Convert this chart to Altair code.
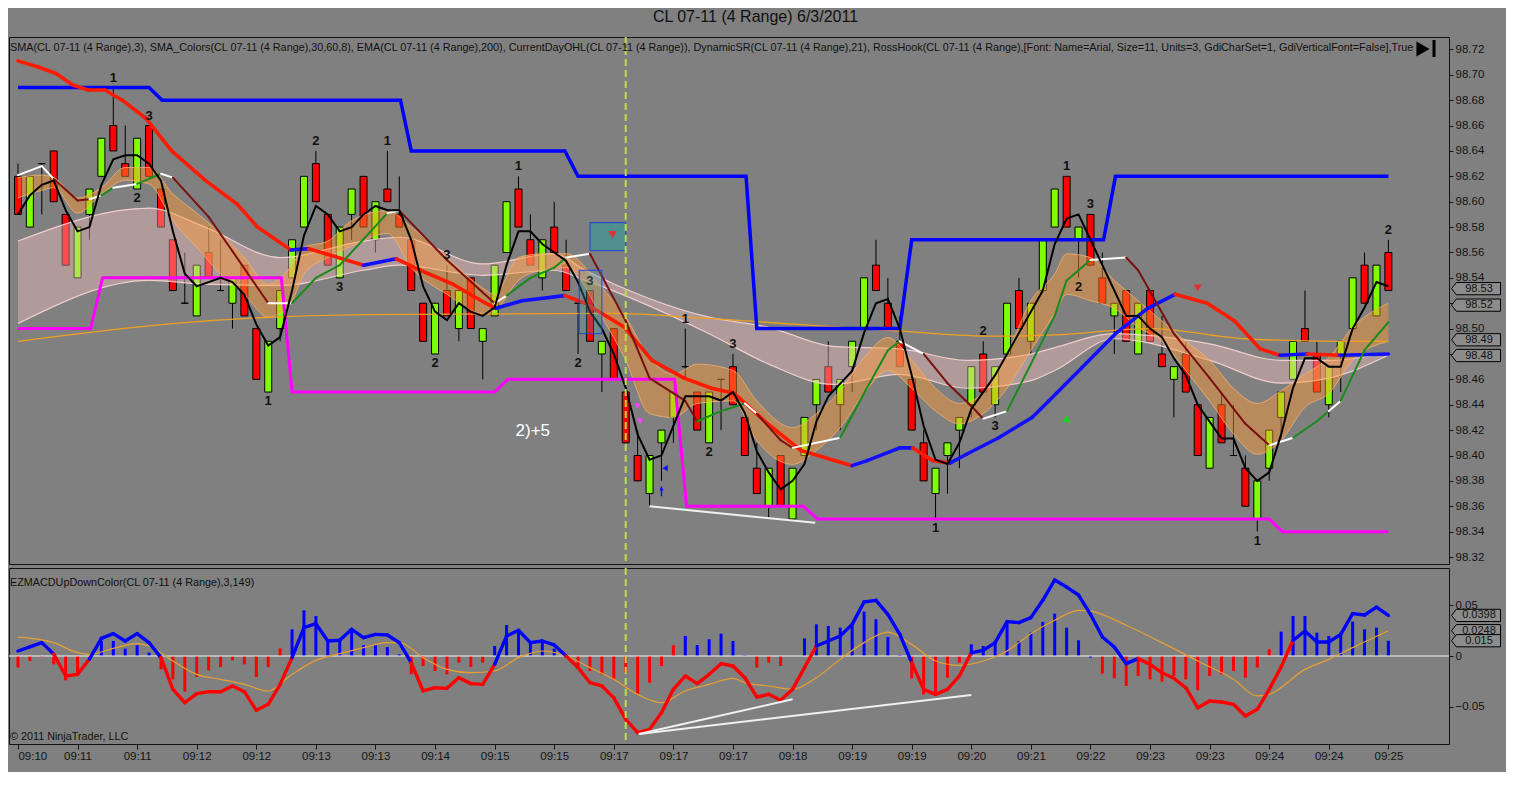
import altair as alt
import pandas as pd

FONT = "Liberation Sans Narrow, Liberation Sans, Arial, sans-serif"
TITLE = "CL 07-11 (4 Range)  6/3/2011"
IND_TEXT = ("SMA(CL 07-11 (4 Range),3), SMA_Colors(CL 07-11 (4 Range),30,60,8), EMA(CL 07-11 (4 Range),200), "
            "CurrentDayOHL(CL 07-11 (4 Range)), DynamicSR(CL 07-11 (4 Range),21), RossHook(CL 07-11 (4 Range),"
            "[Font: Name=Arial, Size=11, Units=3, GdiCharSet=1, GdiVerticalFont=False],True")
MACD_TEXT = "EZMACDUpDownColor(CL 07-11 (4 Range),3,149)"
COPY_TEXT = "\u00a9 2011 NinjaTrader, LLC"

TIMES = ["09:10", "09:11", "09:11", "09:12", "09:12", "09:13", "09:13", "09:14", "09:15", "09:15",
         "09:17", "09:17", "09:17", "09:18", "09:19", "09:19", "09:20", "09:21", "09:22", "09:23",
         "09:23", "09:24", "09:24", "09:25"]
PRICE_TICKS = [98.32, 98.34, 98.36, 98.38, 98.40, 98.42, 98.44, 98.46, 98.48, 98.50, 98.52,
               98.54, 98.56, 98.58, 98.60, 98.62, 98.64, 98.66, 98.68, 98.70, 98.72]
MACD_TICKS = [-0.05, 0, 0.05]

# ---- range bars (4 tick) ----
OPEN = [98.62, 98.58, 98.63, 98.64, 98.59, 98.54, 98.59, 98.62, 98.66, 98.63,
        98.61, 98.66, 98.61, 98.57, 98.52, 98.51, 98.56, 98.53, 98.52, 98.55,
        98.50, 98.45, 98.50, 98.54, 98.58, 98.63, 98.59, 98.54, 98.59, 98.62,
        98.57, 98.61, 98.59, 98.57, 98.52, 98.48, 98.53, 98.50, 98.54, 98.49,
        98.51, 98.56, 98.61, 98.57, 98.54, 98.58, 98.55, 98.52, 98.53, 98.48,
        98.50, 98.45, 98.40, 98.37, 98.41, 98.43, 98.47, 98.45, 98.41, 98.46,
        98.47, 98.43, 98.39, 98.36, 98.40, 98.35, 98.40, 98.44, 98.47, 98.44,
        98.47, 98.50, 98.55, 98.52, 98.49, 98.46, 98.41, 98.37, 98.40, 98.42,
        98.44, 98.48, 98.44, 98.48, 98.53, 98.49, 98.53, 98.58, 98.62, 98.57,
        98.59, 98.54, 98.51, 98.53, 98.48, 98.53, 98.48, 98.46, 98.48, 98.44,
        98.39, 98.44, 98.40, 98.39, 98.35, 98.39, 98.43, 98.46, 98.50, 98.48,
        98.44, 98.48, 98.50, 98.55, 98.51, 98.56]
CLOSE = [98.59, 98.62, 98.63, 98.60, 98.55, 98.58, 98.61, 98.65, 98.64, 98.62,
         98.65, 98.62, 98.58, 98.53, 98.52, 98.55, 98.54, 98.53, 98.54, 98.51,
         98.46, 98.49, 98.53, 98.57, 98.62, 98.60, 98.55, 98.58, 98.61, 98.58,
         98.60, 98.60, 98.58, 98.53, 98.49, 98.52, 98.51, 98.53, 98.50, 98.50,
         98.55, 98.60, 98.58, 98.55, 98.57, 98.56, 98.53, 98.52, 98.49, 98.49,
         98.46, 98.41, 98.38, 98.40, 98.42, 98.45, 98.47, 98.42, 98.45, 98.46,
         98.44, 98.40, 98.37, 98.39, 98.36, 98.39, 98.43, 98.46, 98.45, 98.46,
         98.49, 98.54, 98.53, 98.50, 98.47, 98.42, 98.38, 98.39, 98.41, 98.43,
         98.47, 98.45, 98.47, 98.52, 98.50, 98.52, 98.57, 98.61, 98.58, 98.58,
         98.55, 98.52, 98.52, 98.49, 98.52, 98.49, 98.47, 98.47, 98.45, 98.40,
         98.43, 98.41, 98.40, 98.36, 98.38, 98.42, 98.45, 98.49, 98.49, 98.45,
         98.47, 98.49, 98.54, 98.52, 98.55, 98.53]
HIGH = [98.63, 98.62, 98.63, 98.64, 98.59, 98.58, 98.61, 98.65, 98.69, 98.66,
        98.65, 98.66, 98.61, 98.57, 98.56, 98.55, 98.58, 98.57, 98.54, 98.55,
        98.50, 98.49, 98.53, 98.57, 98.62, 98.64, 98.59, 98.58, 98.61, 98.62,
        98.60, 98.64, 98.62, 98.57, 98.52, 98.52, 98.55, 98.53, 98.54, 98.50,
        98.55, 98.60, 98.62, 98.59, 98.57, 98.60, 98.57, 98.52, 98.53, 98.49,
        98.50, 98.45, 98.42, 98.40, 98.42, 98.45, 98.50, 98.45, 98.45, 98.46,
        98.48, 98.43, 98.41, 98.39, 98.40, 98.39, 98.43, 98.46, 98.49, 98.46,
        98.49, 98.54, 98.57, 98.54, 98.51, 98.46, 98.42, 98.39, 98.41, 98.43,
        98.47, 98.49, 98.47, 98.52, 98.54, 98.52, 98.57, 98.61, 98.62, 98.58,
        98.59, 98.56, 98.52, 98.53, 98.52, 98.53, 98.51, 98.47, 98.49, 98.44,
        98.43, 98.45, 98.44, 98.40, 98.38, 98.42, 98.45, 98.49, 98.53, 98.49,
        98.47, 98.49, 98.54, 98.56, 98.55, 98.57]
LOW = [98.59, 98.58, 98.59, 98.60, 98.55, 98.54, 98.57, 98.62, 98.64, 98.62,
       98.61, 98.62, 98.58, 98.53, 98.52, 98.51, 98.54, 98.53, 98.50, 98.51,
       98.46, 98.45, 98.49, 98.54, 98.58, 98.60, 98.55, 98.54, 98.57, 98.58,
       98.56, 98.60, 98.58, 98.53, 98.49, 98.48, 98.51, 98.49, 98.50, 98.46,
       98.51, 98.56, 98.58, 98.55, 98.53, 98.56, 98.53, 98.48, 98.49, 98.45,
       98.46, 98.41, 98.38, 98.36, 98.38, 98.41, 98.46, 98.42, 98.41, 98.42,
       98.44, 98.40, 98.37, 98.35, 98.36, 98.35, 98.40, 98.42, 98.45, 98.42,
       98.45, 98.50, 98.53, 98.50, 98.47, 98.42, 98.38, 98.35, 98.37, 98.39,
       98.43, 98.45, 98.43, 98.48, 98.50, 98.48, 98.53, 98.58, 98.58, 98.54,
       98.55, 98.52, 98.48, 98.49, 98.48, 98.49, 98.47, 98.43, 98.45, 98.40,
       98.39, 98.41, 98.40, 98.36, 98.34, 98.38, 98.41, 98.46, 98.49, 98.45,
       98.43, 98.45, 98.50, 98.52, 98.51, 98.53]

# ---- thick slow MA (red / blue) ----
THICK_X = [0, 1.75, 3.2, 4.6, 5.9, 7.3, 8.75, 10.7, 12.9, 15.7, 18.4, 20.1, 22.9, 24.4, 29, 31.75, 33.75,
           36.5, 39.25, 40.1, 42.3, 45.9, 47.6, 50.9, 53.2, 55.9, 58.2, 60.1, 62.9, 65.7, 70, 71.25, 74,
           75.1, 76.75, 78.2, 79.6, 82.3, 85.1, 86.5, 89.25, 92.1, 94.8, 97.1, 99.8, 102.1, 104.25, 105.9,
           108.2, 110.9, 115]
THICK_Y = [98.711, 98.706, 98.701, 98.692, 98.688, 98.688, 98.680, 98.666, 98.640, 98.617, 98.598, 98.580,
           98.562, 98.563, 98.550, 98.555, 98.546, 98.535, 98.520, 98.516, 98.522, 98.526, 98.520, 98.501,
           98.475, 98.461, 98.453, 98.449, 98.425, 98.404, 98.392, 98.396, 98.406, 98.406, 98.396, 98.394,
           98.401, 98.414, 98.430, 98.443, 98.469, 98.496, 98.516, 98.527, 98.520, 98.506, 98.484, 98.479,
           98.480, 98.479, 98.480]
THICK_C = "rrrrrrrrrrrrbrbrrrrbbrrrrrrrrrbbbrrbbbbbbbbrrrrbrbb"

# ---- thin colored MA (dark red / green / white) ----
THIN_X = [0, 2, 3, 5, 6, 7, 8, 10, 12, 13, 16, 18, 21, 23, 25, 27, 31, 32, 36, 40, 41, 43, 45, 46, 48, 51,
          53, 56, 57, 59, 61, 62, 64, 65, 69, 71, 73, 74, 76, 78, 80, 81, 83, 85, 87, 88, 90, 93, 94, 97,
          100, 103, 105, 107, 109, 110, 111, 113, 115]
THIN_Y = [98.621, 98.628, 98.618, 98.601, 98.602, 98.605, 98.611, 98.614, 98.622, 98.619,
          98.588, 98.561, 98.520, 98.520, 98.540, 98.550, 98.591, 98.593, 98.554, 98.520,
          98.526, 98.540, 98.548, 98.556, 98.559, 98.506, 98.461, 98.443, 98.427, 98.435,
          98.441, 98.433, 98.412, 98.406, 98.414, 98.449, 98.483, 98.490, 98.480, 98.457,
          98.439, 98.429, 98.435, 98.472, 98.510, 98.538, 98.554, 98.556, 98.546, 98.496,
          98.461, 98.425, 98.408, 98.414, 98.427, 98.435, 98.443, 98.483, 98.505]
THIN_C = "wwrrwgwgwrrrwgggwrrwgggwrrrrggwrrwgggwrrrwggggwrrrrrwggwggg"

# ---- EMA 200 ----
EMA_X = [0, 13, 29, 50, 58, 74, 82, 87, 95, 103, 111, 115]
EMA_Y = [98.490, 98.504, 98.511, 98.512, 98.508, 98.498, 98.494, 98.495, 98.500, 98.492, 98.490, 98.490]

# ---- pink SMA_Colors band ----
PINK_X = [0, 11, 15.7, 22, 29, 32, 39, 45, 47.6, 58, 63, 68.4, 74, 79.6, 85, 87, 92, 100, 106, 110, 115]
PINK_HI = [98.569, 98.595, 98.580, 98.556, 98.569, 98.572, 98.551, 98.559, 98.546, 98.509, 98.501,
           98.486, 98.484, 98.475, 98.480, 98.485, 98.496, 98.488, 98.475, 98.475, 98.481]
PINK_LO = [98.504, 98.538, 98.535, 98.534, 98.546, 98.550, 98.542, 98.546, 98.538, 98.496, 98.472,
           98.456, 98.464, 98.453, 98.459, 98.467, 98.492, 98.475, 98.457, 98.461, 98.479]

# ---- orange fast band ----
ORANGE_X = [0, 2, 3, 5, 7, 9, 11, 13, 15, 17, 19, 21, 23, 24, 26, 28, 31, 33, 36, 39, 40, 42, 44, 46, 49,
            51, 53, 55, 57, 60, 62, 65, 67, 69, 71, 73, 75, 77, 79, 81, 83, 85, 87, 88, 90, 92, 94, 96, 98,
            100, 102, 104, 106, 108, 110, 112, 115]
ORANGE_HI = [98.619, 98.621, 98.619, 98.603, 98.611, 98.627, 98.627, 98.606, 98.591, 98.575,
             98.556, 98.535, 98.550, 98.564, 98.569, 98.585, 98.593, 98.580, 98.556, 98.532,
             98.527, 98.556, 98.559, 98.559, 98.532, 98.509, 98.477, 98.464, 98.472, 98.467,
             98.443, 98.422, 98.433, 98.451, 98.477, 98.493, 98.475, 98.453, 98.441, 98.449,
             98.480, 98.522, 98.543, 98.559, 98.556, 98.538, 98.522, 98.506, 98.490, 98.475,
             98.453, 98.441, 98.451, 98.464, 98.477, 98.501, 98.520]
ORANGE_LO = [98.603, 98.609, 98.611, 98.591, 98.606, 98.617, 98.614, 98.585, 98.564, 98.543,
             98.527, 98.509, 98.522, 98.543, 98.556, 98.565, 98.575, 98.548, 98.527, 98.512,
             98.514, 98.538, 98.546, 98.548, 98.509, 98.475, 98.433, 98.430, 98.441, 98.443,
             98.412, 98.393, 98.404, 98.422, 98.449, 98.467, 98.453, 98.435, 98.425, 98.433,
             98.453, 98.483, 98.512, 98.527, 98.522, 98.516, 98.501, 98.490, 98.467, 98.443,
             98.417, 98.401, 98.412, 98.438, 98.449, 98.475, 98.490]

# ---- CurrentDayOHL / DynamicSR step lines ----
MAGENTA_X = [0, 6.1, 7.1, 22.1, 23, 40, 41.1, 55.1, 56.1, 65.9, 67.1, 105, 106.1, 115]
MAGENTA_Y = [98.50, 98.50, 98.54, 98.54, 98.45, 98.45, 98.46, 98.46, 98.36, 98.36, 98.35, 98.35, 98.34, 98.34]
BLUE_X = [0, 11, 12.1, 32.1, 33, 45.9, 47, 61.1, 62, 74, 75, 91.1, 92.1, 115]
BLUE_Y = [98.69, 98.69, 98.68, 98.68, 98.64, 98.64, 98.62, 98.62, 98.50, 98.50, 98.57, 98.57, 98.62, 98.62]

# ---- RossHook swing labels ----
HOOK_I = [8, 10, 11, 21, 25, 27, 31, 35, 36, 42, 47, 48, 56, 58, 60, 77, 81, 82, 88, 89, 90, 104, 115]
HOOK_T = ["1", "2", "3", "1", "2", "3", "1", "2", "3", "1", "2", "3", "1", "2", "3", "1", "2", "3",
          "1", "2", "3", "1", "2"]
HOOK_SIDE = "aba" "bab" "aba" "aba" "aba" "bab" "aba" "ba"

# ---- MACD panel ----
MACD_Y = [0.0049, 0.0090, 0.0131, 0.0020, -0.0196, -0.0180, -0.0030, 0.0173, 0.0219, 0.0147,
          0.0219, 0.0131, -0.0016, -0.0327, -0.0458, -0.0369, -0.0350, -0.0350, -0.0294, -0.0350,
          -0.0533, -0.0474, -0.0278, -0.0016, 0.0278, 0.0317, 0.0147, 0.0154, 0.0262, 0.0180,
          0.0212, 0.0206, 0.0131, -0.0065, -0.0343, -0.0311, -0.0317, -0.0213, -0.0271, -0.0278,
          -0.0082, 0.0196, 0.0252, 0.0131, 0.0147, 0.0108, 0.0000, -0.0114, -0.0262, -0.0294,
          -0.0409, -0.0621, -0.0752, -0.0719, -0.0556, -0.0327, -0.0196, -0.0271, -0.0180, -0.0075,
          -0.0098, -0.0213, -0.0402, -0.0376, -0.0435, -0.0327, -0.0114, 0.0098, 0.0147, 0.0196,
          0.0310, 0.0530, 0.0546, 0.0409, 0.0213, -0.0065, -0.0327, -0.0376, -0.0327, -0.0196,
          0.0033, 0.0055, 0.0131, 0.0337, 0.0327, 0.0376, 0.0546, 0.0746, 0.0676, 0.0598,
          0.0409, 0.0187, 0.0088, -0.0075, -0.0026, -0.0082, -0.0164, -0.0219, -0.0311, -0.0507,
          -0.0441, -0.0451, -0.0474, -0.0588, -0.0523, -0.0327, -0.0108, 0.0154, 0.0245, 0.0137,
          0.0137, 0.0212, 0.0415, 0.0402, 0.0480, 0.0398]
MACD_C = ("bbb" "rrr" "bbbbbb" "rrrrrrrrrrr" "bbbbbbbbbb" "rrrrrrr" "bbbbbb" "rrrrrrrrrrrrrrrrrrrrr"
          "bbbbbbbb" "rrrrr" "bbbbbbbbbbbbbb" "rrrrrrrrrrrrr" "bbbbbbbbb")
HIST = [-0.0114, -0.0049, -0.0010, -0.0082, -0.0239, -0.0180, -0.0033, 0.0147, 0.0147, 0.0072,
        0.0105, 0.0033, -0.0131, -0.0229, -0.0350, -0.0206, -0.0141, -0.0108, -0.0043, -0.0082,
        -0.0206, -0.0108, 0.0075, 0.0262, 0.0448, 0.0392, 0.0147, 0.0147, 0.0262, 0.0105,
        0.0105, 0.0088, 0.0016, -0.0180, -0.0098, -0.0147, -0.0180, -0.0065, -0.0108, -0.0065,
        0.0098, 0.0304, 0.0262, 0.0147, 0.0147, 0.0072, -0.0016, -0.0108, -0.0147, -0.0180,
        -0.0229, -0.0164, -0.0383, -0.0262, -0.0098, 0.0105, 0.0196, 0.0108, 0.0164, 0.0219,
        0.0147, 0.0007, -0.0114, -0.0065, -0.0098, 0.0000, 0.0173, 0.0311, 0.0294, 0.0278,
        0.0311, 0.0435, 0.0360, 0.0186, 0.0010, -0.0219, -0.0376, -0.0360, -0.0213, -0.0065,
        0.0114, 0.0098, 0.0147, 0.0337, 0.0147, 0.0229, 0.0334, 0.0415, 0.0278, 0.0154,
        -0.0016, -0.0173, -0.0219, -0.0294, -0.0196, -0.0229, -0.0252, -0.0196, -0.0229, -0.0337,
        -0.0196, -0.0180, -0.0147, -0.0213, -0.0114, 0.0065, 0.0239, 0.0392, 0.0392, 0.0229,
        0.0196, 0.0229, 0.0337, 0.0262, 0.0278, 0.0150]
HIST_C = ("rrrrrrr" "bbbbb" "rrrrrrrrrr" "r" "bbbbbbbbbb" "rrrrrrr" "bbbbbb" "rrrrrrrrrr" "bbbbbb"
          "rrr" "b" "bbbbbbbbb" "rrrrr" "bbbbbbbbbbb" "rrrrrrrrrrrrrrr" "bbbbbbbbbb")
SIG_X = [0, 3, 5, 6, 8, 10, 11, 13, 15, 17, 19, 21, 23, 25, 27, 29, 31, 32, 34, 36, 38, 40, 42, 44, 46,
         48, 50, 52, 54, 56, 58, 60, 61, 63, 65, 67, 69, 71, 73, 75, 77, 79, 81, 83, 85, 87, 89, 90, 93,
         96, 99, 102, 104, 105, 108, 110, 112, 115]
SIG_Y = [0.0186, 0.0131, 0.0033, 0.0016, 0.0075, 0.0121, 0.0098, -0.0049, -0.0180, -0.0229,
         -0.0278, -0.0343, -0.0180, -0.0043, 0.0023, 0.0082, 0.0131, 0.0131, -0.0016, -0.0131,
         -0.0164, -0.0147, -0.0016, 0.0049, 0.0000, -0.0114, -0.0229, -0.0376, -0.0458, -0.0343,
         -0.0278, -0.0219, -0.0262, -0.0294, -0.0327, -0.0213, -0.0033, 0.0131, 0.0235, 0.0114,
         -0.0049, -0.0092, -0.0049, 0.0049, 0.0219, 0.0350, 0.0448, 0.0441, 0.0301, 0.0131,
         -0.0049, -0.0229, -0.0392, -0.0376, -0.0131, -0.0033, 0.0082, 0.0248]

# drawn trend / divergence lines and markers
PRICE_DIV = {"x": [53.0], "y": [98.360], "x2": [66.9], "y2": [98.347]}
MACD_DIV = {"x": [52.1, 52.1], "y": [-0.0765, -0.0765], "x2": [65.0, 80.0], "y2": [-0.0425, -0.0383]}
# price tags on the right axis: label value and the level where the tag sits (spread apart as drawn)
PRICE_TAGS = [98.53, 98.52, 98.49, 98.48]
PRICE_TAG_AT = [98.5315, 98.5185, 98.4912, 98.4788]
MACD_TAGS = [0.0398, 0.0248, 0.015]
MARK_BAR = 51

# ----------------------------------------------------------------------
N = len(CLOSE)
bars = pd.DataFrame({"i": list(range(N)), "O": OPEN, "H": HIGH, "L": LOW, "C": CLOSE})
bars["fill"] = ["#80ff00" if c > o else ("#ff0000" if c < o else "#000000") for o, c in zip(OPEN, CLOSE)]


def segs(xv, yv, cv, cmap):
    rows = []
    for k in range(len(xv) - 1):
        rows.append({"x": xv[k], "y": yv[k], "x2": xv[k + 1], "y2": yv[k + 1], "c": cmap[cv[k]]})
    return pd.DataFrame(rows)


xs = alt.Scale(domain=[-1 / 3, 119 + 2 / 3], nice=False, zero=False)
ys = alt.Scale(domain=[98.3145, 98.7298], nice=False, zero=False)
ms = alt.Scale(domain=[-0.0863, 0.0863], nice=False, zero=False)

hidden = "[" + ",".join("'" + f"{v:.2f}" + "'" for v in PRICE_TAGS) + "]"
price_axis = alt.Axis(orient="right", values=PRICE_TICKS, tickSize=4, labelPadding=2,
                      title=None, domain=False, grid=False,
                      labelExpr="indexof(" + hidden + ", format(datum.value, '.2f')) >= 0 ? '' : "
                                "format(datum.value, '.2f')")
macd_axis = alt.Axis(orient="right", values=MACD_TICKS, tickSize=4, labelPadding=2, title=None,
                     domain=False, grid=False,
                     labelExpr="datum.value == 0 ? '0' : format(datum.value, '.2f')")
time_list = "[" + ",".join("'" + t + "'" for t in TIMES) + "]"
time_axis = alt.Axis(values=[5 * k for k in range(len(TIMES))], labelExpr=time_list + "[round(datum.value/5)]",
                     tickSize=5, labelPadding=1, title=None, domain=False, grid=False, labelFlush=10)


def XT(f="i"):
    return alt.X(f + ":Q", scale=xs, axis=None)


def YT(f):
    return alt.Y(f + ":Q", scale=ys, axis=price_axis)


def XB(f="i"):
    return alt.X(f + ":Q", scale=xs, axis=time_axis)


def YB(f):
    return alt.Y(f + ":Q", scale=ms, axis=macd_axis)


# ------------------------- price panel -------------------------------
wicks = alt.Chart(bars).mark_rule(color="black", strokeWidth=1).encode(x=XT(), y=YT("L"), y2="H")
bodies = alt.Chart(bars).mark_bar(size=7, stroke="black", strokeWidth=1).encode(
    x=XT(), y=YT("O"), y2="C", fill=alt.Fill("fill:N", scale=None))

pink = pd.DataFrame({"x": PINK_X, "hi": PINK_HI, "lo": PINK_LO})
pink_area = alt.Chart(pink).mark_area(color="#f8c0c0", opacity=0.4, interpolate="monotone").encode(
    x=XT("x"), y=YT("hi"), y2="lo")
pink_hi = alt.Chart(pink).mark_line(color="#ffd8d8", strokeWidth=1.2, opacity=0.85,
                                    interpolate="monotone").encode(x=XT("x"), y=YT("hi"))
pink_lo = alt.Chart(pink).mark_line(color="#ffd8d8", strokeWidth=1.2, opacity=0.85,
                                    interpolate="monotone").encode(x=XT("x"), y=YT("lo"))

orange = pd.DataFrame({"x": ORANGE_X, "hi": ORANGE_HI, "lo": ORANGE_LO})
orange_area = alt.Chart(orange).mark_area(color="#ff9a30", opacity=0.45, interpolate="monotone").encode(
    x=XT("x"), y=YT("hi"), y2="lo")
orange_hi = alt.Chart(orange).mark_line(color="#f2b070", strokeWidth=1, opacity=0.8,
                                        interpolate="monotone").encode(x=XT("x"), y=YT("hi"))
orange_lo = alt.Chart(orange).mark_line(color="#f2b070", strokeWidth=1, opacity=0.8,
                                        interpolate="monotone").encode(x=XT("x"), y=YT("lo"))

ema = alt.Chart(pd.DataFrame({"x": EMA_X, "y": EMA_Y})).mark_line(
    color="#f0a020", strokeWidth=1.3, interpolate="monotone").encode(x=XT("x"), y=YT("y"))

magenta = alt.Chart(pd.DataFrame({"x": MAGENTA_X, "y": MAGENTA_Y})).mark_line(
    color="#ff00ff", strokeWidth=3).encode(x=XT("x"), y=YT("y"))
bluestep = alt.Chart(pd.DataFrame({"x": BLUE_X, "y": BLUE_Y})).mark_line(
    color="#0000ff", strokeWidth=3.5).encode(x=XT("x"), y=YT("y"))

thick = alt.Chart(segs(THICK_X, THICK_Y, THICK_C, {"r": "#ff1a00", "b": "#1010ff"})).mark_rule(
    strokeWidth=3.6, strokeCap="round").encode(
    x=XT("x"), y=YT("y"), x2="x2:Q", y2="y2:Q", color=alt.Color("c:N", scale=None))
thin = alt.Chart(segs(THIN_X, THIN_Y, THIN_C, {"r": "#7a1010", "g": "#1a8a1a", "w": "#ffffff"})).mark_rule(
    strokeWidth=2, strokeCap="round").encode(
    x=XT("x"), y=YT("y"), x2="x2:Q", y2="y2:Q", color=alt.Color("c:N", scale=None))

sma = alt.Chart(bars).transform_window(
    sma="mean(C)", frame=[-2, 0], sort=[alt.SortField("i")]
).mark_line(color="black", strokeWidth=2).encode(x=XT(), y=YT("sma"))

hooks = pd.DataFrame({"i": HOOK_I, "t": HOOK_T, "side": list(HOOK_SIDE)})
hooks["y"] = [HIGH[i] if s == "a" else LOW[i] for i, s in zip(HOOK_I, HOOK_SIDE)]
hook_above = alt.Chart(hooks[hooks.side == "a"]).mark_text(
    baseline="bottom", dy=-3, fontSize=13, fontWeight="bold", font="Liberation Sans", color="#111").encode(
    x=XT(), y=YT("y"), text="t:N")
hook_below = alt.Chart(hooks[hooks.side == "b"]).mark_text(
    baseline="top", dy=3, fontSize=13, fontWeight="bold", font="Liberation Sans", color="#111").encode(
    x=XT(), y=YT("y"), text="t:N")

teal_box = alt.Chart(pd.DataFrame({"x": [48.0], "x2": [51.0], "y": [98.5835], "y2": [98.5614]})).mark_rect(
    fill="#4f8f8f", stroke="#2040d0", strokeWidth=1).encode(x=XT("x"), x2="x2:Q", y=YT("y"), y2="y2:Q")
blue_box = alt.Chart(pd.DataFrame({"x": [47.1], "x2": [49.0], "y": [98.546], "y2": [98.496]})).mark_rect(
    fill="#4a9ab0", fillOpacity=0.3, stroke="#2040e0", strokeWidth=1).encode(
    x=XT("x"), x2="x2:Q", y=YT("y"), y2="y2:Q")

marks = pd.DataFrame({
    "x": [49.9, 99.0, 88.0, 54.0, 54.3, 52.0, 52.2],
    "y": [98.574, 98.532, 98.429, 98.372, 98.390, 98.439, 98.427],
    "shape": ["triangle-down", "triangle-down", "triangle-up", "arrow", "triangle-left", "triangle-down",
              "triangle-down"],
    "c": ["#e03030", "#e03030", "#20d020", "#1010ff", "#1010ff", "#ff40ff", "#ff40ff"],
    "s": [70, 70, 70, 110, 40, 40, 40],
})
markers = alt.Chart(marks).mark_point(filled=True, opacity=1).encode(
    x=XT("x"), y=YT("y"), shape=alt.Shape("shape:N", scale=None), color=alt.Color("c:N", scale=None),
    size=alt.Size("s:Q", scale=None))

note = alt.Chart(pd.DataFrame({"x": [43.2], "y": [98.419], "t": ["2)+5"]})).mark_text(
    color="white", fontSize=17, font="Liberation Sans").encode(x=XT("x"), y=YT("y"), text="t:N")

pdiv = alt.Chart(pd.DataFrame(PRICE_DIV)).mark_rule(color="#f0f0f0", strokeWidth=2).encode(
    x=XT("x"), y=YT("y"), x2="x2:Q", y2="y2:Q")

vline_top = alt.Chart(pd.DataFrame({"i": [MARK_BAR]})).mark_rule(
    color="#b8e040", strokeDash=[7, 4], strokeWidth=2).encode(x=XT())

ind_text = alt.Chart(pd.DataFrame({"t": [IND_TEXT]})).mark_text(
    align="left", baseline="middle", fontSize=10.8, font=FONT, color="#111").encode(
    x=alt.value(1), y=alt.value(11), text="t:N")
play_tri = alt.Chart(pd.DataFrame({"t": [1]})).mark_point(
    shape="triangle-right", filled=True, color="black", size=230, opacity=1).encode(
    x=alt.value(1414), y=alt.value(12))
play_bar = alt.Chart(pd.DataFrame({"t": [1]})).mark_rule(color="black", strokeWidth=3).encode(
    x=alt.value(1425), y=alt.value(3), y2=alt.value(20))

TAG_PATH = "M-1,0 L-0.8,-0.25 L1,-0.25 L1,0.25 L-0.8,0.25 Z"
ptags = pd.DataFrame({"v": PRICE_TAG_AT, "t": [f"{v:.2f}" for v in PRICE_TAGS]})
ptag_shape = alt.Chart(ptags).mark_point(shape=TAG_PATH, size=2400, filled=True, fill="#8c8c8c",
                                         stroke="black", strokeWidth=1, opacity=1).encode(
    x=alt.value(1467), y=YT("v"))
ptag_text = alt.Chart(ptags).mark_text(fontSize=11, font=FONT, color="#111").encode(
    x=alt.value(1470), y=YT("v"), text="t:N")

top = alt.layer(
    wicks, bodies, pink_area, pink_hi, pink_lo, orange_area, orange_hi, orange_lo, ema,
    magenta, bluestep, thick, thin, sma, pdiv, hook_above, hook_below, blue_box, teal_box,
    markers, note, vline_top, ind_text, play_tri, play_bar, ptag_shape, ptag_text
).properties(width=1440, height=527)

# ------------------------- MACD panel --------------------------------
hist = pd.DataFrame({"i": list(range(N)), "h": HIST, "z": [0.0] * N,
                     "c": ["#ff0000" if k == "r" else "#0000ff" for k in HIST_C]})
hist_bars = alt.Chart(hist).mark_bar(size=3).encode(
    x=XB(), y=YB("h"), y2="z", color=alt.Color("c:N", scale=None))
zero = alt.Chart(pd.DataFrame({"z": [0.0]})).mark_rule(color="#f4f4f4", strokeWidth=1).encode(y=YB("z"))
signal = alt.Chart(pd.DataFrame({"x": SIG_X, "y": SIG_Y})).mark_line(
    color="#e8a030", strokeWidth=1.2, interpolate="monotone").encode(x=XB("x"), y=YB("y"))
macd_line = alt.Chart(segs(list(range(N)), MACD_Y, MACD_C, {"r": "#ff0000", "b": "#0000ff"})).mark_rule(
    strokeWidth=3.4, strokeCap="round").encode(
    x=XB("x"), y=YB("y"), x2="x2:Q", y2="y2:Q", color=alt.Color("c:N", scale=None))
mdiv = alt.Chart(pd.DataFrame(MACD_DIV)).mark_rule(color="#f0f0f0", strokeWidth=2).encode(
    x=XB("x"), y=YB("y"), x2="x2:Q", y2="y2:Q")
vline_bot = alt.Chart(pd.DataFrame({"i": [MARK_BAR]})).mark_rule(
    color="#b8e040", strokeDash=[7, 4], strokeWidth=2).encode(x=XB())
macd_text = alt.Chart(pd.DataFrame({"t": [MACD_TEXT]})).mark_text(
    align="left", baseline="middle", fontSize=10.8, font=FONT, color="#111").encode(
    x=alt.value(1), y=alt.value(15), text="t:N")
copy_text = alt.Chart(pd.DataFrame({"t": [COPY_TEXT]})).mark_text(
    align="left", baseline="middle", fontSize=10.8, font=FONT, color="#111").encode(
    x=alt.value(1), y=alt.value(169), text="t:N")
mtags = pd.DataFrame({"v": MACD_TAGS, "t": [f"{v:g}" for v in MACD_TAGS]})
mtag_shape = alt.Chart(mtags).mark_point(shape=TAG_PATH, size=2400, filled=True, fill="#8c8c8c",
                                         stroke="black", strokeWidth=1, opacity=1).encode(
    x=alt.value(1467), y=YB("v"))
mtag_text = alt.Chart(mtags).mark_text(fontSize=11, font=FONT, color="#111").encode(
    x=alt.value(1470), y=YB("v"), text="t:N")

bottom = alt.layer(
    hist_bars, zero, signal, macd_line, mdiv, vline_bot, macd_text, copy_text, mtag_shape, mtag_text
).properties(width=1440, height=176)

chart = alt.vconcat(top, bottom, spacing=0).properties(
    title=alt.TitleParams(TITLE, fontSize=16, font=FONT, fontWeight="normal", color="#111",
                          anchor="middle", offset=11),
    background="#808080",
    padding={"left": 0, "top": 0, "right": 3, "bottom": 10},
).configure_view(
    stroke="#111", strokeWidth=1, fill="#808080"
).configure_axis(
    labelFont=FONT, labelFontSize=11.5, labelColor="#141414", tickColor="#141414", grid=False
)

chart.save("out.html", embed_options={"renderer": "svg", "actions": False})
